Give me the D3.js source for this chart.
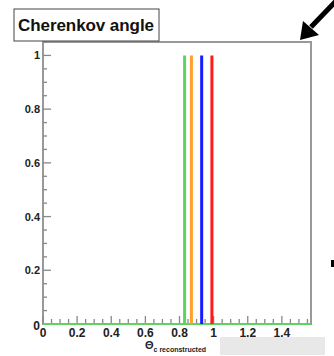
<!DOCTYPE html>
<html><head><meta charset="utf-8">
<script src="https://cdn.jsdelivr.net/npm/d3@7"></script>
<style>body{margin:0;background:#fff}svg{display:block}</style>
</head><body>
<script>
const seriesNames = ["green", "orange", "blue", "red"];
const seriesColors = ["#5fd35f", "#ffa030", "#1a1aff", "#ff1a1a"];
const thetaValues = [0.83, 0.87, 0.93, 0.99];
const heights = [1, 1, 1, 1];
const xTicks = [0, 0.2, 0.4, 0.6, 0.8, 1, 1.2, 1.4];
const xTickLabels = ["0", "0.2", "0.4", "0.6", "0.8", "1", "1.2", "1.4"];
const yTicks = [0.2, 0.4, 0.6, 0.8, 1];
const yTickLabels = ["0.2", "0.4", "0.6", "0.8", "1"];
const title = "Cherenkov angle";

const W = 334, H = 356;
const svg = d3.select("body").append("svg").attr("width", W).attr("height", H);
const L = 43, R = 311, T = 42, B = 324;
const x = d3.scaleLinear().domain([0, Math.PI / 2]).range([L, R]);
const y = d3.scaleLinear().domain([0, 1.05]).range([B, T]);
const font = "Liberation Sans, Arial, sans-serif";

// frame
svg.append("rect").attr("x", L).attr("y", T).attr("width", R - L).attr("height", B - T)
  .attr("fill", "#fff").attr("stroke", "#999").attr("stroke-width", 2);

// minor/major ticks x
const isMajor = d => Math.abs(d / 0.2 - Math.round(d / 0.2)) < 1e-6;
const xMinor = d3.range(0, 1.5501, 0.05);
svg.append("g").selectAll("line").data(xMinor).join("line")
  .attr("x1", d => x(d)).attr("x2", d => x(d))
  .attr("y1", B).attr("y2", d => isMajor(d) ? B - 8 : B - 5)
  .attr("stroke", "#888").attr("stroke-width", 1.3);
const yMinor = d3.range(0, 1.0501, 0.05);
svg.append("g").selectAll("line").data(yMinor).join("line")
  .attr("y1", d => y(d)).attr("y2", d => y(d))
  .attr("x1", L).attr("x2", d => isMajor(d) ? L + 8 : L + 4)
  .attr("stroke", "#888").attr("stroke-width", 1.3);

// baseline histogram (green)
svg.append("line").attr("x1", L).attr("x2", R).attr("y1", B).attr("y2", B)
  .attr("stroke", "#5fd35f").attr("stroke-width", 2);

// bars
svg.append("g").selectAll("line").data(thetaValues).join("line")
  .attr("x1", d => x(d)).attr("x2", d => x(d))
  .attr("y1", B).attr("y2", (d, i) => y(heights[i]))
  .attr("stroke", (d, i) => seriesColors[i]).attr("stroke-width", 3);

// axis labels
svg.append("g").selectAll("text").data(xTicks).join("text")
  .attr("x", d => x(d)).attr("y", 337).attr("text-anchor", "middle")
  .attr("font-family", font).attr("font-weight", "bold").attr("font-size", 12)
  .attr("fill", "#222").text((d, i) => xTickLabels[i]);
svg.append("g").selectAll("text").data(yTicks).join("text")
  .attr("x", 40).attr("y", d => y(d) + 4).attr("text-anchor", "end")
  .attr("font-family", font).attr("font-weight", "bold").attr("font-size", 11)
  .attr("fill", "#222").text((d, i) => yTickLabels[i]);
svg.append("text").attr("x", 40).attr("y", 330).attr("text-anchor", "end")
  .attr("font-family", font).attr("font-weight", "bold").attr("font-size", 12)
  .attr("fill", "#222").text("0");

// x title
const xt = svg.append("text").attr("x", 145).attr("y", 349)
  .attr("font-family", font).attr("font-weight", "bold").attr("fill", "#222");
xt.append("tspan").attr("font-size", 11).text("Θ");
xt.append("tspan").attr("font-size", 7).attr("dy", 3).text("c reconstructed");

// gray box
svg.append("rect").attr("x", 220).attr("y", 337).attr("width", 105).attr("height", 18).attr("fill", "#e8e8e8");

// title box
svg.append("rect").attr("x", 14).attr("y", 9).attr("width", 145).attr("height", 32)
  .attr("fill", "#fff").attr("stroke", "#444").attr("stroke-width", 1);
svg.append("text").attr("x", 18).attr("y", 31)
  .attr("font-family", font).attr("font-weight", "bold").attr("font-size", 17)
  .attr("textLength", 136).attr("fill", "#111").text(title);

// arrow
svg.append("line").attr("x1", 336).attr("y1", 1).attr("x2", 311).attr("y2", 27)
  .attr("stroke", "#000").attr("stroke-width", 5);
svg.append("path").attr("d", "M300,40 L303,21 L319,35 Z").attr("fill", "#000");

// small mark
svg.append("rect").attr("x", 331).attr("y", 260).attr("width", 3).attr("height", 7).attr("fill", "#000");
</script>
</body></html>
